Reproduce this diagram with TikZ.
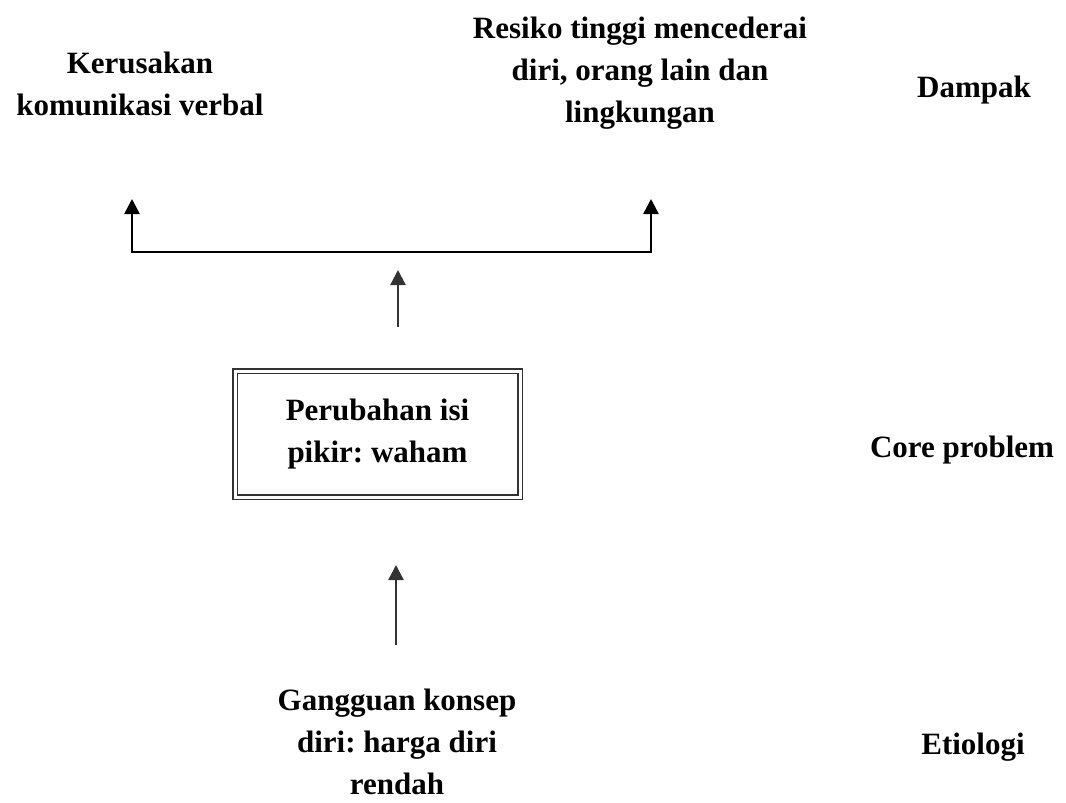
\documentclass[tikz,border=0pt]{standalone}
\usepackage{fontspec}
\setmainfont{Liberation Serif}
\usetikzlibrary{arrows.meta}
\frenchspacing

\begin{document}
\begin{tikzpicture}[x=1pt,y=-1pt,
  lbl/.style={align=center,inner sep=0pt,
    font=\fontsize{31}{42}\selectfont\bfseries},
  corebox/.style={lbl,draw=black!80,double,double distance=3pt,
    line width=1.5pt,minimum width=285pt,minimum height=126pt},
  up/.style={draw=black!80,line width=2.4pt,
    -{Triangle[width=15pt,length=15pt]}},
  fork/.style={draw=black,line width=2.6pt,
    {Triangle[width=15pt,length=15pt]}-{Triangle[width=15pt,length=15pt]}}]
  \useasboundingbox (0,0) rectangle (1066,803);

  % dampak
  \node[lbl] (kerusakan) at (140,84) {Kerusakan\\komunikasi verbal};
  \node[lbl] (resiko) at (640,73)
    {Resiko tinggi mencederai\\diri, orang lain dan\\lingkungan};
  \node[lbl] (dampak) at (974,90) {Dampak};

  % core problem
  \node[corebox] (waham) at (377.5,434) {Perubahan isi\\pikir: waham};
  \node[lbl] (core) at (962,450) {Core problem};

  % etiologi
  \node[lbl] (gangguan) at (397,742)
    {Gangguan konsep\\diri: harga diri\\rendah};
  \node[lbl] (etiologi) at (973,747) {Etiologi};

  \coordinate (forkL) at (132,199);
  \coordinate (forkLb) at (132,252);
  \coordinate (forkRb) at (651,252);
  \coordinate (forkR) at (651,199);
  \draw[fork] (forkL) -- (forkLb) -- (forkRb) -- (forkR);

  \coordinate (wahamTop) at (398,327);
  \coordinate (forkMid) at (398,270);
  \draw[up] (wahamTop) -- (forkMid);

  \coordinate (gangguanTop) at (396,645);
  \coordinate (wahamBot) at (396,565);
  \draw[up] (gangguanTop) -- (wahamBot);
\end{tikzpicture}
\end{document}
